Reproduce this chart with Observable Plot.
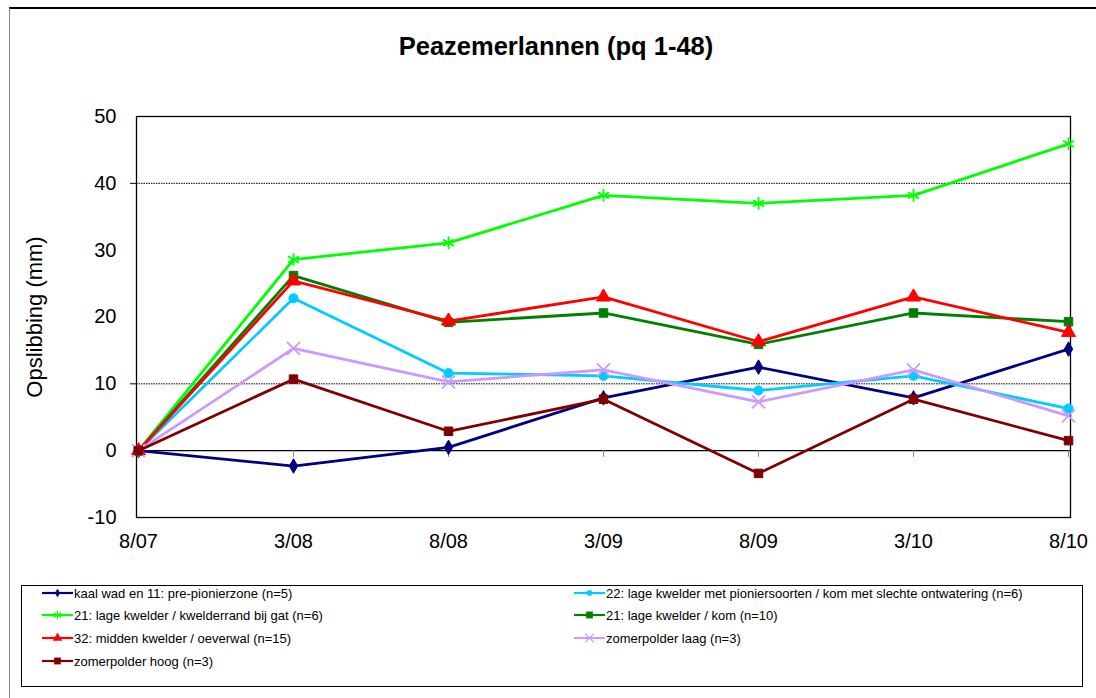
<!DOCTYPE html>
<html>
<head>
<meta charset="utf-8">
<script src="https://cdn.jsdelivr.net/npm/d3@7"></script>
<script src="https://cdn.jsdelivr.net/npm/@observablehq/plot@0.6"></script>
<style>
  html, body { margin: 0; padding: 0; background: #fff; }
  #wrap { position: relative; width: 1096px; height: 698px; overflow: hidden; font-family: "Liberation Sans", Arial, sans-serif; }
  #outer { position: absolute; left: 9px; top: 7px; width: 1200px; height: 800px; border-left: 1px solid #8a8a8a; border-top: 2px solid #000; }
  #title { position: absolute; left: 0; width: 1112px; top: 31px; text-align: center; font-weight: bold; font-size: 25.5px; line-height: 30px; }
  #chart { position: absolute; left: 0; top: 0; }
  #legend { position: absolute; left: 21px; top: 585px; width: 1060px; height: 100px; border: 1px solid #000; background: #fff; }
  .entry { position: absolute; height: 16px; display: flex; align-items: center; font-size: 13px; white-space: nowrap; }
  .entry svg { display: block; margin-right: 1px; }
</style>
</head>
<body>
<div id="wrap">
  <div id="outer"></div>
  <div id="title">Peazemerlannen (pq 1-48)</div>
  <div id="chart"></div>
  <div id="legend"></div>
</div>
<script>
const categories = ["8/07", "3/08", "8/08", "3/09", "8/09", "3/10", "8/10"];

const seriesNames = [
  "kaal wad en 11: pre-pionierzone (n=5)",
  "22: lage kwelder met pioniersoorten / kom met slechte ontwatering (n=6)",
  "21: lage kwelder / kwelderrand bij gat (n=6)",
  "21: lage kwelder / kom (n=10)",
  "32: midden kwelder / oeverwal (n=15)",
  "zomerpolder laag (n=3)",
  "zomerpolder hoog (n=3)"
];
const seriesColors = ["#000080", "#00CCFF", "#00FF00", "#008000", "#FF0000", "#CC99FF", "#800000"];
const seriesSymbols = ["diamond", "circle", "asterisk", "square", "triangle", "times", "square"];

const kaalWad      = [0, -2.3, 0.5, 7.9, 12.5, 7.9, 15.2];
const pionier22    = [0, 22.8, 11.6, 11.2, 9.0, 11.2, 6.3];
const kwelderrand  = [0, 28.6, 31.1, 38.2, 37.0, 38.2, 45.9];
const kom21        = [0, 26.2, 19.2, 20.6, 15.9, 20.6, 19.3];
const oeverwal32   = [0, 25.4, 19.4, 23.0, 16.3, 23.0, 17.7];
const zomerLaag    = [0, 15.3, 10.3, 12.1, 7.3, 12.1, 5.2];
const zomerHoog    = [0, 10.7, 2.9, 7.7, -3.4, 7.7, 1.5];

const seriesValues = [kaalWad, pionier22, kwelderrand, kom21, oeverwal32, zomerLaag, zomerHoog];
const yTicks = [-10, 0, 10, 20, 30, 40, 50];
const gridValues = [10, 40];

const markerR = {diamond: 4.4, circle: 4.6, asterisk: 6, square: 4.8, triangle: 5.2, times: 6};
const filled = {diamond: true, circle: true, asterisk: false, square: true, triangle: true, times: false};

const marks = [];
marks.push(Plot.ruleY(gridValues, {stroke: "#000", strokeWidth: 1, strokeDasharray: "1.5,1"}));
marks.push(Plot.ruleY([0], {stroke: "#000", strokeWidth: 1.2}));
marks.push(Plot.ruleX(categories, {x: d => d, y1: 0, y2: -1, stroke: "#888", strokeWidth: 1}));
marks.push(Plot.frame({stroke: "#000", strokeWidth: 1.3}));
marks.push(Plot.axisY({ticks: yTicks, tickFormat: d => String(d), tickSize: 0, tickPadding: 20, fontSize: 20, label: null}));
marks.push(Plot.axisY({ticks: gridValues, tickSize: 6, text: null, label: null}));
marks.push(Plot.axisX({tickSize: 0, tickPadding: 16, fontSize: 20, label: null}));
marks.push(Plot.text(["Opslibbing (mm)"], {frameAnchor: "left", textAnchor: "middle", rotate: -90, dx: -102, fontSize: 22, text: d => d}));

seriesValues.forEach((vals, i) => {
  const data = categories.map((c, j) => ({cat: c, value: vals[j]}));
  const col = seriesColors[i];
  const sym = seriesSymbols[i];
  marks.push(Plot.line(data, {x: "cat", y: "value", stroke: col, strokeWidth: 2.8}));
  marks.push(Plot.dot(data, {
    x: "cat", y: "value", symbol: () => sym, r: markerR[sym],
    fill: filled[sym] ? col : "none", stroke: col, strokeWidth: filled[sym] ? 1 : 1.8
  }));
});

const chart = Plot.plot({
  width: 1096,
  height: 560,
  marginLeft: 136,
  marginRight: 26,
  marginTop: 116,
  marginBottom: 43,
  style: {fontFamily: "'Liberation Sans', Arial, sans-serif", color: "#000", background: "transparent"},
  x: {type: "point", domain: categories, padding: 0, axis: null},
  y: {domain: [-10, 50], axis: null},
  symbol: {type: "identity"},
  marks
});
document.getElementById("chart").appendChild(chart);

// legend
const legend = document.getElementById("legend");
const rowY = [7, 29, 52, 75];
const colX = [20, 552];
seriesNames.forEach((name, i) => {
  const row = Math.floor(i / 2), col = i % 2;
  const e = document.createElement("div");
  e.className = "entry";
  e.style.left = colX[col] + "px";
  e.style.top = rowY[row] - 8 + "px";
  const svg = d3.create("svg").attr("width", 31).attr("height", 16);
  svg.append("line").attr("x1", 0).attr("x2", 31).attr("y1", 8).attr("y2", 8)
    .attr("stroke", seriesColors[i]).attr("stroke-width", 2.2);
  const symMap = {diamond: d3.symbolDiamond, circle: d3.symbolCircle, asterisk: d3.symbolAsterisk,
                  square: d3.symbolSquare, triangle: d3.symbolTriangle, times: d3.symbolTimes};
  const sym = seriesSymbols[i];
  const size = {diamond: 18, circle: 22, asterisk: 50, square: 40, triangle: 34, times: 50}[sym];
  svg.append("path").attr("d", d3.symbol(symMap[sym], size)())
    .attr("transform", "translate(15.5,8)")
    .attr("fill", filled[sym] ? seriesColors[i] : "none")
    .attr("stroke", seriesColors[i]).attr("stroke-width", filled[sym] ? 0.5 : 1.2);
  e.appendChild(svg.node());
  const t = document.createElement("span");
  t.textContent = name;
  e.appendChild(t);
  legend.appendChild(e);
});
</script>
</body>
</html>
